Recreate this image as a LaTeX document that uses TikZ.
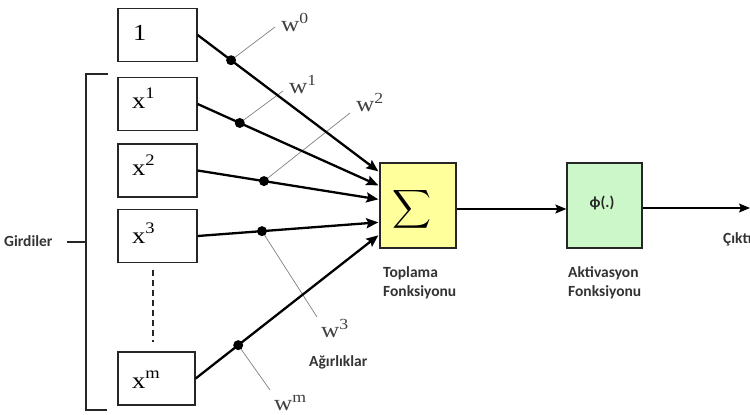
\documentclass[tikz,border=0pt]{standalone}
\usepackage{fontspec}
\usepackage{graphicx}
\setmainfont{Carlito}
\newfontfamily\serw[FakeStretch=1.15]{Liberation Serif}
\usetikzlibrary{arrows.meta,calc}
\definecolor{sumfill}{HTML}{FFFF9C}
\definecolor{actfill}{HTML}{CCF7C8}
\begin{document}
\begin{tikzpicture}[x=1pt,y=-1pt,
  inbox/.style={draw=black!85, line width=1.3pt, minimum width=79pt, minimum height=53pt, inner sep=0pt},
  intxt/.style={anchor=base west, inner sep=0pt, font=\serw\fontsize{23}{23}\selectfont},
  wtxt/.style={anchor=base west, inner sep=0pt, text=black!75, font=\serw\fontsize{22}{22}\selectfont},
  lbl/.style={inner sep=0pt, font=\bfseries\fontsize{15.5}{19.5}\selectfont, text=black!80},
  feed/.style={line width=2.3pt, -{Stealth[length=12pt,width=10pt,inset=2pt]}},
  wline/.style={gray, line width=0.7pt},
  wdot/.style={circle, fill=black, inner sep=0pt, minimum size=10pt},
  frame/.style={line width=1.3pt, black!85},
  flow/.style={line width=1.2pt, -{Stealth[length=11pt,width=9pt,inset=2pt]}},
  fbox/.style={draw=black!85, line width=1.3pt, minimum width=76pt, minimum height=85pt, inner sep=0pt}
]
\useasboundingbox (0,0) rectangle (750,415);
\clip (0,0) rectangle (750,415);

% input boxes
\node[inbox] (b0) at (157.5,35) {};
\node[inbox] (b1) at (157.5,104) {};
\node[inbox] (b2) at (157.5,170.5) {};
\node[inbox] (b3) at (157.5,236) {};
\node[inbox, minimum width=77pt] (bm) at (156.5,378.5) {};

\node[intxt] (t0) at (133,40) {1};
\node[intxt] (t1) at (132,108) {x\textsuperscript{1}};
\node[intxt] (t2) at (132,175) {x\textsuperscript{2}};
\node[intxt] (t3) at (132,243) {x\textsuperscript{3}};
\node[intxt] (tm) at (132,388) {x\textsuperscript{m}};

% dashed ellipsis
\coordinate (dtop) at (153,270);
\coordinate (dbot) at (153,342);
\draw[frame, dash pattern=on 6pt off 4pt] (dtop) -- (dbot);

% bracket and Girdiler
\coordinate (brt) at (108,74);
\coordinate (brb) at (107,410);
\coordinate (brm) at (86,242);
\coordinate (tick) at (67,242);
\draw[frame] (brt) -- (86,74) -- (86,410) -- (brb);
\draw[frame] (tick) -- (brm);
\node[lbl, anchor=base west] (gird) at (4,246) {Girdiler};

% summation and activation boxes
\node[fbox, fill=sumfill] (sum) at (418,205.5) {};
\node (sig) at (412,209) {\scalebox{2.7}{$\displaystyle\sum$}};
\node[fbox, fill=actfill, minimum width=75pt] (act) at (604.5,205.5) {};
\node[lbl, text=black!85] (phi) at (602,203) {ϕ(.)};

% arrow end points on the summation box
\coordinate (e0) at ($(sum.north west)+(-1,9)$);
\coordinate (e1) at ($(sum.north west)+(-1,23)$);
\coordinate (e2) at ($(sum.north west)+(-1,37)$);
\coordinate (e3) at ($(sum.north west)+(-1,60)$);
\coordinate (em) at ($(sum.north west)+(-1,73)$);

% weight dots
\coordinate (d0) at ($(b0.east)!0.185!(e0)$);
\coordinate (d1) at ($(b1.east)!0.233!(e1)$);
\coordinate (d2) at ($(b2.east)!0.367!(e2)$);
\coordinate (d3) at ($(b3.east)!0.356!(e3)$);
\coordinate (dm) at ($(bm.east)!0.233!(em)$);

\coordinate (w0e) at (275,27);
\coordinate (w1e) at (283,91);
\coordinate (w2e) at (350,113);
\coordinate (w3e) at (317,317);
\coordinate (wme) at (270,390);
\draw[wline] (d0) -- (w0e);
\draw[wline] (d1) -- (w1e);
\draw[wline] (d2) -- (w2e);
\draw[wline] (d3) -- (w3e);
\draw[wline] (dm) -- (wme);

\draw[feed] (b0.east) -- (e0);
\draw[feed] (b1.east) -- (e1);
\draw[feed] (b2.east) -- (e2);
\draw[feed] (b3.east) -- (e3);
\draw[feed] (bm.east) -- (em);

\node[wdot] (p0) at (d0) {};
\node[wdot] (p1) at (d1) {};
\node[wdot] (p2) at (d2) {};
\node[wdot] (p3) at (d3) {};
\node[wdot] (pm) at (dm) {};

\node[wtxt] (l0) at (281,31) {w\textsuperscript{0}};
\node[wtxt] (l1) at (289,93) {w\textsuperscript{1}};
\node[wtxt] (l2) at (356,111) {w\textsuperscript{2}};
\node[wtxt] (l3) at (321,337) {w\textsuperscript{3}};
\node[wtxt] (lm) at (274,410) {w\textsuperscript{m}};
\node[lbl, anchor=base west] (agr) at (309,366) {Ağırlıklar};

% flow to output
\coordinate (out) at (750,208);
\draw[flow] ($(sum.east)+(0,3.5)$) -- ($(act.west)+(0,3.5)$);
\draw[flow] ($(act.east)+(0,2.5)$) -- (out);

\node[lbl, anchor=north west, align=left] (topl) at (383,266) {Toplama\\Fonksiyonu};
\node[lbl, anchor=north west, align=left] (aktl) at (568,266) {Aktivasyon\\Fonksiyonu};
\node[lbl, anchor=base west] (cikti) at (723,243) {Çıktı};
\end{tikzpicture}
\end{document}
